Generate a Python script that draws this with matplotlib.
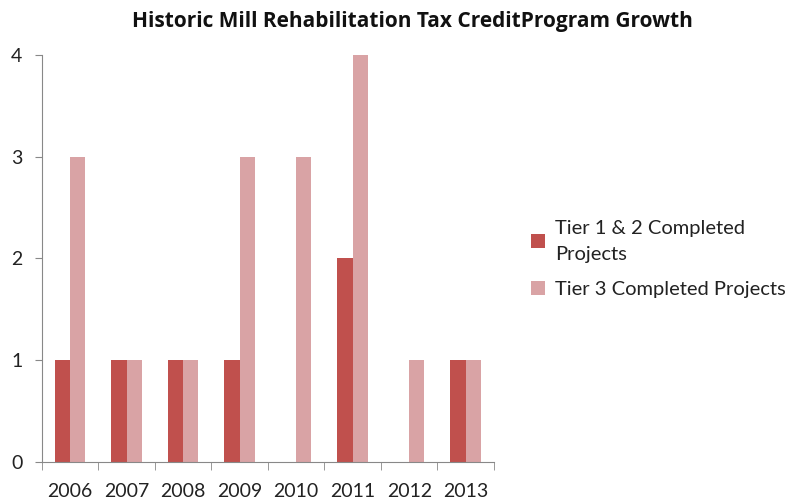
import numpy as np
import matplotlib.pyplot as plt

years = ['2006', '2007', '2008', '2009', '2010', '2011', '2012', '2013']
tier12 = [1, 1, 1, 1, 0, 2, 0, 1]
tier3 = [3, 1, 1, 3, 3, 4, 1, 1]

dark = '#C0504D'
light = '#D9A3A5'

plt.rcParams['font.family'] = ['Lato', 'DejaVu Sans']

fig = plt.figure(figsize=(7.91, 5.04), dpi=100)
ax = fig.add_axes([0.053, 0.0833, 0.5715, 0.8077])

x = np.arange(len(years))
w = 0.27
ax.bar(x - w / 2, tier12, w, color=dark, label='Tier 1 & 2 Completed\nProjects')
ax.bar(x + w / 2, tier3, w, color=light, label='Tier 3 Completed Projects')

ax.set_xlim(-0.5, len(years) - 0.5)
ax.set_ylim(0, 4)
ax.set_yticks([0, 1, 2, 3, 4])
ax.set_xticks(x)
ax.set_xticklabels(years)
ax.set_xticks(np.arange(len(years) + 1) - 0.5, minor=True)
ax.tick_params(axis='x', which='major', length=0, pad=15, labelsize=14, colors='#222222')
ax.tick_params(axis='x', which='minor', length=6, color='#888888')
ax.tick_params(axis='y', length=5, pad=9, labelsize=14, color='#888888', labelcolor='#222222')

for s in ['top', 'right']:
    ax.spines[s].set_visible(False)
for s in ['left', 'bottom']:
    ax.spines[s].set_color('#888888')

fig.text(0.522, 0.958, 'Historic Mill Rehabilitation Tax CreditProgram Growth',
         ha='center', va='center', fontsize=15, fontweight='bold',
         family=['Open Sans', 'DejaVu Sans'], color='#111111')

leg = fig.legend(loc='upper left', bbox_to_anchor=(0.649, 0.6), frameon=False,
                 fontsize=14.5, handlelength=0.65, handleheight=0.65, handletextpad=0.5,
                 labelspacing=0.9, labelcolor='#222222')
for t in leg.get_texts():
    t.set_linespacing(1.65)

fig.savefig('out.png', dpi=100)
